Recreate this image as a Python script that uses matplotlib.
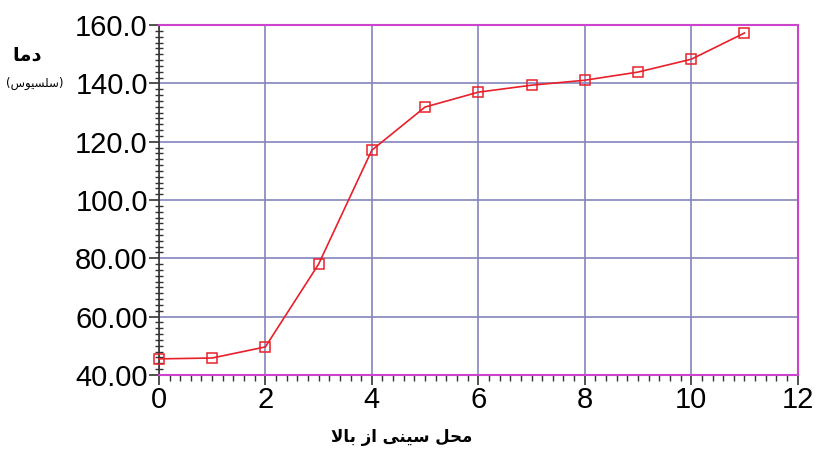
import numpy as np
import matplotlib.pyplot as plt
from matplotlib.ticker import MultipleLocator, FixedFormatter, FixedLocator

# tray position from top vs temperature
tray = [0, 1, 2, 3, 4, 5, 6, 7, 8, 9, 10, 11]
temp = [45.5, 45.8, 49.6, 78.0, 117.1, 131.9, 137.0, 139.4, 141.1, 143.9, 148.3, 157.3]

y_ticks = [40, 60, 80, 100, 120, 140, 160]
y_labels = ['40.00', '60.00', '80.00', '100.0', '120.0', '140.0', '160.0']
x_ticks = [0, 2, 4, 6, 8, 10, 12]

# Persian labels (pre-shaped presentation forms, visual order)
ylab_main = '\ufe8e\ufee3\ufea9'                                # دما
ylab_unit = '(\ufeb1\ufeee\ufef4\ufeb4\ufee0\ufeb3)'            # (سلسیوس)
xlab = '\ufefb\ufe8e\ufe91 \ufeaf\ufe8d \ufef0\ufee8\ufef4\ufeb3 \ufede\ufea4\ufee3'  # محل سینی از بالا

fig = plt.figure(figsize=(8.19, 4.49), dpi=100)
ax = fig.add_axes([0.194, 0.165, 0.780, 0.779])

ax.plot(tray, temp, color='#e8202a', lw=1.2, marker='s', markersize=7,
        markerfacecolor='none', markeredgecolor='#e8202a', markeredgewidth=1.1,
        zorder=3, clip_on=False)

ax.set_xlim(0, 12)
ax.set_ylim(40, 160)
ax.set_xticks(x_ticks)
ax.yaxis.set_major_locator(FixedLocator(y_ticks))
ax.yaxis.set_major_formatter(FixedFormatter(y_labels))
ax.xaxis.set_minor_locator(MultipleLocator(0.2))
ax.yaxis.set_minor_locator(MultipleLocator(2))

ax.grid(True, which='major', color='#8585bd', lw=1.2)
ax.set_axisbelow(True)

for side in ['top', 'right', 'bottom']:
    ax.spines[side].set_color('#cc44cc')
    ax.spines[side].set_linewidth(1.5)
ax.spines['left'].set_color('#333333')
ax.spines['left'].set_linewidth(1.2)

ax.tick_params(axis='both', which='major', length=7, width=1.2, color='#333333',
               labelsize=21, pad=1)
ax.tick_params(axis='x', which='minor', length=4, width=1.0, color='#333333')
ax.tick_params(axis='y', which='minor', length=6, width=1.0, color='#333333',
               direction='inout')
for lab in ax.get_xticklabels() + ax.get_yticklabels():
    lab.set_fontfamily('Liberation Sans')

fig.text(0.033, 0.877, ylab_main, fontsize=14, fontweight='bold',
         family='DejaVu Sans', ha='center', va='center')
fig.text(0.042, 0.815, ylab_unit, fontsize=8.5, family='DejaVu Sans',
         ha='center', va='center')
fig.text(0.49, 0.027, xlab, fontsize=12, fontweight='bold',
         family='DejaVu Sans', ha='center', va='center')

fig.savefig('out.png', dpi=100)
